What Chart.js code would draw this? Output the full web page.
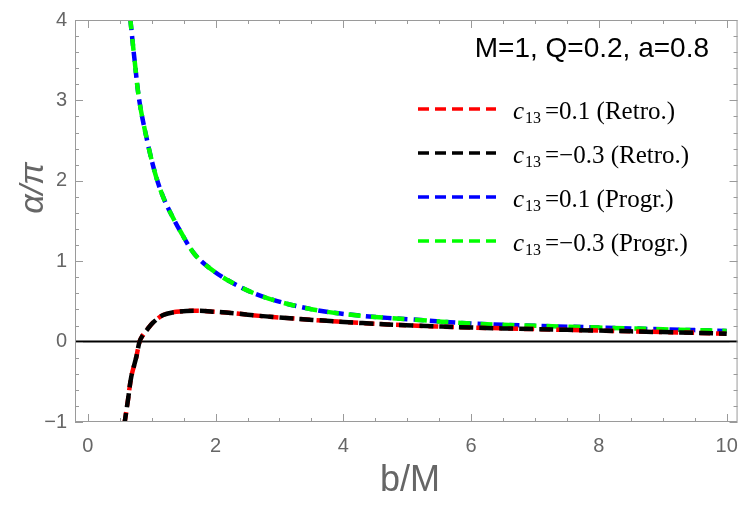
<!DOCTYPE html>
<html>
<head>
<meta charset="utf-8">
<style>
html,body{margin:0;padding:0;background:#fff;}
</style>
<script src="https://cdn.jsdelivr.net/npm/chart.js@4.4.1/dist/chart.umd.min.js"></script>
</head>
<body>
<canvas id="chart" width="750" height="505"></canvas>
<script>
// values (b/M, alpha/pi)
var retroB    = [0.578, 0.63, 0.68, 0.76, 0.81, 0.85, 0.93, 1.02, 1.18, 1.385, 1.70, 2.01, 2.32, 2.69, 3.0, 3.52, 4.30, 5.08, 6.0, 7.0, 8.0, 9.0, 10.0];
var retroC01  = [-1.0, -0.72, -0.44, -0.19, 0.0, 0.065, 0.15, 0.235, 0.33, 0.37, 0.385, 0.37, 0.35, 0.32, 0.30, 0.27, 0.23, 0.20, 0.175, 0.155, 0.137, 0.118, 0.099];
var retroCm03 = [-1.0, -0.72, -0.44, -0.19, 0.0, 0.065, 0.15, 0.235, 0.33, 0.37, 0.385, 0.37, 0.35, 0.32, 0.30, 0.27, 0.23, 0.20, 0.175, 0.155, 0.137, 0.118, 0.099];

var progrB    = [0.667, 0.734, 0.81, 0.943, 1.07, 1.2, 1.36, 1.44, 1.65, 1.85, 2.22, 2.74, 3.52, 4.30, 5.08, 6.0, 7.0, 8.0, 9.0, 10.0];
var progrC01  = [4.0, 3.49, 2.98, 2.45, 2.05, 1.76, 1.50, 1.385, 1.11, 0.95, 0.75, 0.56, 0.40, 0.32, 0.275, 0.225, 0.197, 0.175, 0.153, 0.133];
var progrCm03 = [4.0, 3.49, 2.98, 2.45, 2.05, 1.76, 1.50, 1.385, 1.11, 0.95, 0.75, 0.56, 0.40, 0.32, 0.275, 0.225, 0.197, 0.175, 0.153, 0.133];

var xTicks = [0, 2, 4, 6, 8, 10];
var yTicks = [-1, 0, 1, 2, 3, 4];
var legendC = ['0.1', '\u22120.3', '0.1', '\u22120.3'];
var legendMode = ['Retro.', 'Retro.', 'Progr.', 'Progr.'];
var titleText = 'M=1, Q=0.2, a=0.8';

function pts(xs, ys){
    return xs.map(function(x, i){ return {x: x, y: ys[i]}; });
}

function line(label, data, color, dash, offset, order){
    return {
        label: label,
        data: data,
        borderColor: color,
        borderWidth: 4.5,
        borderDash: dash,
        borderDashOffset: offset,
        borderCapStyle: 'butt',
        pointRadius: 0,
        fill: false,
        tension: 0.35,
        clip: 0,
        order: order
    };
}

var frame = {
    id: 'frame',
    beforeDatasetsDraw: function(chart){
        var ctx = chart.ctx, a = chart.chartArea, y0 = chart.scales.y.getPixelForValue(0);
        ctx.save();
        ctx.strokeStyle = '#000';
        ctx.lineWidth = 2;
        ctx.beginPath();
        ctx.moveTo(a.left, y0);
        ctx.lineTo(a.right, y0);
        ctx.stroke();
        ctx.restore();
    },
    afterDatasetsDraw: function(chart){
        var ctx = chart.ctx, a = chart.chartArea, sx = chart.scales.x, sy = chart.scales.y;
        ctx.save();
        ctx.strokeStyle = '#9a9a9a';
        ctx.lineWidth = 1;
        ctx.strokeRect(a.left + 0.5, a.top + 0.5, a.right - a.left - 1, a.bottom - a.top - 1);
        ctx.beginPath();
        var v, p, len;
        for (var j = 0; j <= 20; j++) {
            v = j / 2;
            p = Math.round(sx.getPixelForValue(v)) + 0.5;
            len = (j % 4 === 0) ? 8 : 4;
            ctx.moveTo(p, a.bottom); ctx.lineTo(p, a.bottom - len);
            ctx.moveTo(p, a.top); ctx.lineTo(p, a.top + len);
        }
        for (var k = -5; k <= 20; k++) {
            v = k / 5;
            p = Math.round(sy.getPixelForValue(v)) + 0.5;
            len = (k % 5 === 0) ? 8 : 4;
            ctx.moveTo(a.left, p); ctx.lineTo(a.left + len, p);
            ctx.moveTo(a.right, p); ctx.lineTo(a.right - len, p);
        }
        ctx.stroke();
        ctx.restore();
    },
    afterDraw: function(chart){
        var ctx = chart.ctx;
        ctx.save();
        // title
        ctx.fillStyle = '#000';
        ctx.font = '28px "Liberation Sans"';
        ctx.textAlign = 'right';
        ctx.textBaseline = 'alphabetic';
        ctx.fillText(titleText, 709, 57);
        // legend
        ctx.textAlign = 'left';
        chart.data.datasets.forEach(function(ds, i){
            var y = 109 + i * 44;
            ctx.save();
            ctx.strokeStyle = ds.borderColor;
            ctx.lineWidth = 3.5;
            ctx.setLineDash([11, 6]);
            ctx.beginPath();
            ctx.moveTo(418, y);
            ctx.lineTo(496, y);
            ctx.stroke();
            ctx.restore();
            ctx.fillStyle = '#000';
            ctx.font = 'italic 25px "Liberation Serif"';
            ctx.fillText('c', 513, y + 10);
            ctx.font = '16px "Liberation Serif"';
            ctx.fillText('13', 525, y + 14);
            ctx.font = '25px "Liberation Serif"';
            ctx.fillText('=' + legendC[i] + ' (' + legendMode[i] + ')', 545, y + 10);
        });
        // axis titles
        ctx.fillStyle = '#666';
        ctx.font = '36px "Liberation Sans"';
        ctx.textAlign = 'center';
        ctx.fillText('b/M', 410, 491);
        ctx.translate(43, 188);
        ctx.rotate(-Math.PI / 2);
        ctx.font = 'italic 34px "Liberation Sans"';
        ctx.fillText('\u03b1/\u03c0', 0, 0);
        ctx.restore();
    }
};

var tickFont = {family: 'Liberation Sans', size: 20};

new Chart(document.getElementById('chart'), {
    type: 'line',
    data: {
        datasets: [
            line('c13=0.1 (Retro.)', pts(retroB, retroC01), '#ff0000', [10, 6], 0, 1),
            line('c13=-0.3 (Retro.)', pts(retroB, retroCm03), '#000000', [14, 6], 5, 0),
            line('c13=0.1 (Progr.)', pts(progrB, progrC01), '#0000ff', [10, 6], 0, 3),
            line('c13=-0.3 (Progr.)', pts(progrB, progrCm03), '#00ff00', [12, 10], 3, 2)
        ]
    },
    options: {
        responsive: false,
        animation: false,
        devicePixelRatio: 1,
        layout: {padding: {top: 13, right: 11, left: 0, bottom: 0}},
        plugins: {legend: {display: false}, tooltip: {enabled: false}},
        scales: {
            x: {
                type: 'linear',
                min: -0.2,
                max: 10.17,
                grid: {display: false, drawTicks: false},
                border: {display: false},
                ticks: {font: tickFont, color: '#666', padding: 12, maxRotation: 0},
                afterBuildTicks: function(s){ s.ticks = xTicks.map(function(v){ return {value: v}; }); },
                afterFit: function(s){ s.height = 83; }
            },
            y: {
                type: 'linear',
                min: -1,
                max: 4,
                grid: {display: false, drawTicks: false},
                border: {display: false},
                ticks: {
                    font: tickFont, color: '#666', padding: 8,
                    callback: function(v){ return v < 0 ? '\u2212' + Math.abs(v) : String(v); }
                },
                afterBuildTicks: function(s){ s.ticks = yTicks.map(function(v){ return {value: v}; }); },
                afterFit: function(s){ s.width = 75; }
            }
        }
    },
    plugins: [frame]
});
</script>
</body>
</html>
